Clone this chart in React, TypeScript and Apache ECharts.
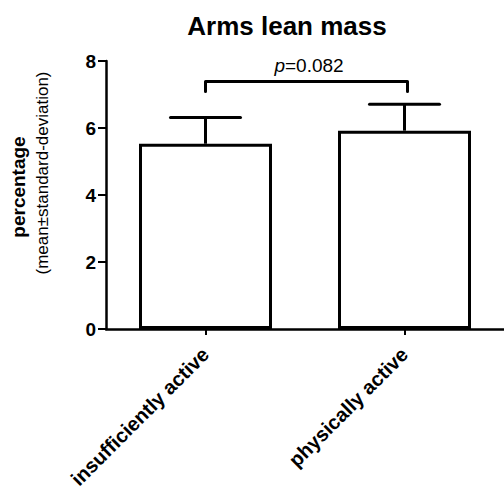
import React, { useEffect, useRef } from "react";
import * as echarts from "echarts";

const categories = ["insufficiently active", "physically active"];
const means = [5.53, 5.92];
const sds = [0.78, 0.79];
const bracketTop = 7.39;
const bracketLegBottom = 7.09;
const pValueText = "0.082";
const titleText = "Arms lean mass";
const yLabelMain = "percentage";
const yLabelSub = "(mean±standard-deviation)";

const FONT = "'Liberation Sans', Arial, sans-serif";

export default function App() {
  const ref = useRef<HTMLDivElement>(null);
  useEffect(() => {
    if (!ref.current) return;
    const chart = echarts.init(ref.current, null, { renderer: "svg" });
    const errData = means.map((m, i) => [i, m, m + sds[i]]);
    chart.setOption({
      animation: false,
      backgroundColor: "#ffffff",
      textStyle: { fontFamily: FONT },
      title: {
        text: titleText,
        left: 282,
        top: 8,
        textAlign: "center",
        textStyle: { fontSize: 26, fontWeight: "bold", color: "#000", fontFamily: FONT },
      },
      grid: { left: 106, top: 61, width: 400, bottom: 163, containLabel: false },
      xAxis: {
        type: "category",
        data: categories,
        z: 5,
        axisLine: { lineStyle: { color: "#000", width: 2.5 } },
        axisTick: { show: true, alignWithLabel: true, length: 6, lineStyle: { color: "#000", width: 2 } },
        axisLabel: {
          rotate: 45,
          interval: 0,
          margin: 22,
          color: "#000",
          fontWeight: "bold",
          fontSize: 20,
          fontFamily: FONT,
        },
        splitLine: { show: false },
      },
      yAxis: {
        type: "value",
        min: 0,
        max: 8,
        interval: 2,
        z: 5,
        axisLine: { show: true, lineStyle: { color: "#000", width: 2.5 } },
        axisTick: { show: true, length: 8, lineStyle: { color: "#000", width: 2 } },
        axisLabel: { color: "#000", fontWeight: "bold", fontSize: 19, margin: 10, fontFamily: FONT },
        splitLine: { show: false },
      },
      graphic: [
        {
          type: "text",
          x: 18,
          y: 187,
          rotation: Math.PI / 2,
          style: {
            text: yLabelMain,
            fontSize: 19,
            fontWeight: "bold",
            fill: "#000",
            fontFamily: FONT,
            align: "center",
            verticalAlign: "middle",
          },
        },
        {
          type: "text",
          x: 42,
          y: 173,
          rotation: Math.PI / 2,
          style: {
            text: yLabelSub,
            fontSize: 17,
            fill: "#000",
            fontFamily: FONT,
            align: "center",
            verticalAlign: "middle",
          },
        },
      ],
      series: [
        {
          type: "bar",
          data: means,
          barWidth: 133,
          itemStyle: { color: "#ffffff", borderColor: "#000", borderWidth: 3 },
          z: 2,
        },
        {
          type: "custom",
          data: errData,
          z: 3,
          renderItem: (params: any, api: any) => {
            const x = api.value(0);
            const lo = api.coord([x, api.value(1)]);
            const hi = api.coord([x, api.value(2)]);
            const half = 35;
            return {
              type: "group",
              children: [
                {
                  type: "line",
                  shape: { x1: lo[0], y1: lo[1], x2: hi[0], y2: hi[1] },
                  style: { stroke: "#000", lineWidth: 3 },
                },
                {
                  type: "line",
                  shape: { x1: hi[0] - half, y1: hi[1], x2: hi[0] + half, y2: hi[1] },
                  style: { stroke: "#000", lineWidth: 3, lineCap: "round" },
                },
              ],
            };
          },
        },
        {
          type: "custom",
          data: [[0, 1, bracketTop, bracketLegBottom]],
          z: 3,
          renderItem: (params: any, api: any) => {
            const a0 = api.coord([api.value(0), api.value(3)]);
            const a1 = api.coord([api.value(0), api.value(2)]);
            const b1 = api.coord([api.value(1), api.value(2)]);
            const b0 = api.coord([api.value(1), api.value(3)]);
            return {
              type: "group",
              children: [
                {
                  type: "polyline",
                  shape: { points: [[a0[0], a0[1]], [a1[0], a1[1]], [b1[0] + 3, b1[1]], [b0[0] + 3, b0[1]]] },
                  style: { stroke: "#000", lineWidth: 3, fill: "none", lineCap: "round", lineJoin: "round" },
                },
                {
                  type: "text",
                  x: (a1[0] + b1[0]) / 2 + 4,
                  y: a1[1] - 6,
                  style: {
                    text: "{i|p}=" + pValueText,
                    fontSize: 19,
                    fontFamily: FONT,
                    fill: "#000",
                    align: "center",
                    verticalAlign: "bottom",
                    rich: { i: { fontStyle: "italic", fontSize: 19, fontFamily: FONT, fill: "#000" } },
                  },
                },
              ],
            };
          },
        },
      ],
    });
    return () => chart.dispose();
  }, []);
  return (
    <div
      ref={ref}
      style={{ position: "absolute", left: 0, top: 0, width: 504, height: 492 }}
    />
  );
}
